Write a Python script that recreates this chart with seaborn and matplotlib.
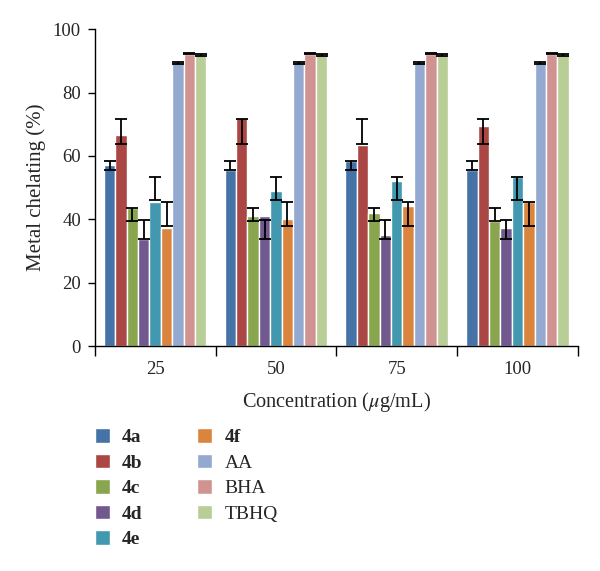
import numpy as np
import pandas as pd
import seaborn as sns
import matplotlib.pyplot as plt

# data
concentrations = ['25', '50', '75', '100']
compounds = ['4a', '4b', '4c', '4d', '4e', '4f', 'AA', 'BHA', 'TBHQ']
values = {
    '4a':   [57.2, 55.7, 58.3, 55.7],
    '4b':   [66.6, 71.9, 63.3, 69.4],
    '4c':   [43.6, 40.9, 42.0, 39.3],
    '4d':   [33.9, 40.9, 35.1, 37.2],
    '4e':   [45.4, 48.8, 52.0, 53.4],
    '4f':   [37.2, 40.1, 44.3, 45.4],
    'AA':   [89.5, 89.5, 89.5, 89.5],
    'BHA':  [92.3, 92.3, 92.3, 92.3],
    'TBHQ': [91.8, 91.8, 91.8, 91.8],
}
# error bars (same for every concentration in the original figure)
err_center = [57.0, 67.8, 41.4, 36.9, 49.8, 41.7, 89.3, 92.4, 91.8]
err_half = [1.3, 3.9, 2.1, 3.0, 3.6, 3.7, 0.3, 0.2, 0.2]

colors = ['#4572A7', '#AA4643', '#89A54E', '#71588F', '#4198AF',
          '#DB843D', '#93A9CF', '#D19392', '#B9CD96']

#%% plot setup
sns.set_style('ticks')
plt.rcParams['font.family'] = ['Liberation Serif', 'DejaVu Serif']
plt.rcParams['mathtext.fontset'] = 'stix'

rows = []
for c in compounds:
    for conc, v in zip(concentrations, values[c]):
        rows.append({'Concentration': conc, 'Compound': c, 'Value': v})
df = pd.DataFrame(rows)

fig = plt.figure(figsize=(6.0, 5.71), dpi=100)
ax = fig.add_axes([0.158, 0.394, 0.805, 0.555])
sns.barplot(data=df, x='Concentration', y='Value', hue='Compound',
            order=concentrations, hue_order=compounds, palette=colors,
            errorbar=None, width=0.85, saturation=1, ax=ax, legend=True)

bar_containers = list(ax.containers)
for i, cont in enumerate(bar_containers):
    xs = [p.get_x() + p.get_width() / 2 for p in cont.patches]
    ax.errorbar(xs, [err_center[i]] * len(xs), yerr=err_half[i], fmt='none',
                ecolor='black', elinewidth=1.3, capsize=4.3, capthick=1.3)

ax.set_ylim(0, 100)
ax.set_xlim(-0.5, 3.5)
ax.set_yticks([0, 20, 40, 60, 80, 100])
ax.set_xticks([-0.5, 0.5, 1.5, 2.5, 3.5])
ax.set_xticklabels([])
ax.set_xticks([0, 1, 2, 3], minor=True)
ax.set_xticklabels(concentrations, minor=True)
ax.tick_params(axis='x', which='minor', length=0, pad=11, labelsize=13.5)
ax.tick_params(axis='x', which='major', length=7, width=1, color='black')
ax.tick_params(axis='y', length=5, width=1, color='black', labelsize=13.5, pad=5)
for s in ['left', 'bottom']:
    ax.spines[s].set_color('black')
    ax.spines[s].set_linewidth(1)
sns.despine(ax=ax)
ax.set_ylabel('Metal chelating (%)', fontsize=15, labelpad=5)
ax.set_xlabel(r'Concentration ($\mu$g/mL)', fontsize=14.6, labelpad=8.5)

handles, labels = ax.get_legend_handles_labels()
ax.get_legend().remove()
leg = fig.legend(handles, labels, loc='upper left', bbox_to_anchor=(0.158, 0.250),
                 ncol=2, frameon=False, fontsize=14, handlelength=0.78,
                 handleheight=0.78, handletextpad=0.62, labelspacing=0.38,
                 columnspacing=2.8, borderpad=0, borderaxespad=0)
for t in leg.get_texts():
    if t.get_text().startswith('4'):
        t.set_fontweight('bold')

plt.savefig('out.png', dpi=100)
